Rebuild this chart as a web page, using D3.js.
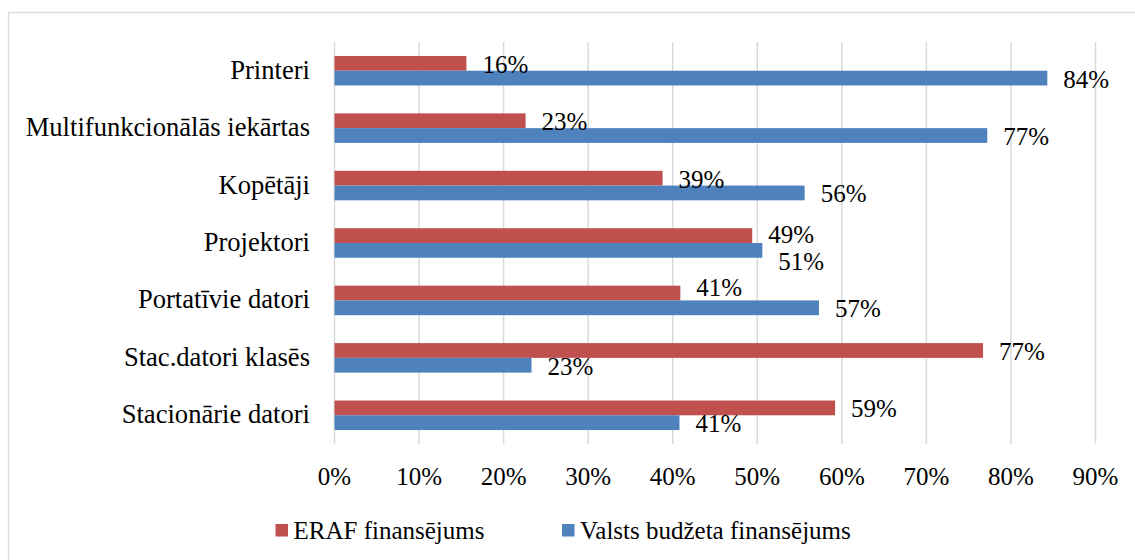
<!DOCTYPE html>
<html>
<head>
<meta charset="utf-8">
<script src="https://d3js.org/d3.v7.min.js"></script>
<style>
  body { margin: 0; background: #fff; }
</style>
</head>
<body>
<div id="chart"></div>
<script>
// categories, top to bottom
var categories = ["Printeri", "Multifunkcionālās iekārtas", "Kopētāji", "Projektori",
                  "Portatīvie datori", "Stac.datori klasēs", "Stacionārie datori"];
var seriesNames = ["ERAF finansējums", "Valsts budžeta finansējums"];
// percentages
var eraf   = [15.6, 22.6, 38.8, 49.4, 40.9, 76.7, 59.2];
var valsts = [84.3, 77.2, 55.6, 50.6, 57.3, 23.3, 40.8];
var ticks  = [0, 10, 20, 30, 40, 50, 60, 70, 80, 90];
var colors = ["#C0504D", "#4F81BD"];

var FONT = "'Liberation Serif', Tinos, 'Times New Roman', Times, 'DejaVu Serif', serif";
var W = 1135, H = 560;
var svg = d3.select("#chart").append("svg")
    .attr("width", W).attr("height", H)
    .attr("font-family", FONT);

// outer chart frame (only top/left fall inside the picture)
svg.append("rect")
   .attr("x", 8.5).attr("y", 12.5)
   .attr("width", 1140).attr("height", 560)
   .attr("fill", "none").attr("stroke", "#d9d9d9").attr("stroke-width", 1.3);

var xScale = d3.scaleLinear().domain([0, 90]).range([334.5, 1095.5]);
var yScale = d3.scaleBand().domain(categories).range([42, 444])
    .paddingInner(0.486).paddingOuter(0.243);
var ySub = d3.scaleBand().domain([0, 1]).range([0, yScale.bandwidth()]);

// gridlines
svg.append("g").selectAll("line")
   .data(ticks).enter().append("line")
   .attr("x1", function(d) { return xScale(d); })
   .attr("x2", function(d) { return xScale(d); })
   .attr("y1", 42).attr("y2", 444)
   .attr("stroke", "#d9d9d9").attr("stroke-width", 1.5);

// x tick labels
svg.append("g").selectAll("text")
   .data(ticks).enter().append("text")
   .attr("x", function(d) { return xScale(d); })
   .attr("y", 485)
   .attr("text-anchor", "middle")
   .style("font-family", FONT)
   .style("font-size", "25px")
   .text(function(d) { return d + "%"; });

// category labels
svg.append("g").selectAll("text")
   .data(categories).enter().append("text")
   .attr("x", 310)
   .attr("y", function(d) { return yScale(d) + yScale.bandwidth() / 2 + 8; })
   .attr("text-anchor", "end")
   .style("font-family", FONT)
   .style("font-size", "26.6px")
   .text(function(d) { return d; });

var rows = [];
categories.forEach(function(c, i) {
  rows.push({ cat: c, s: 0, v: eraf[i] });
  rows.push({ cat: c, s: 1, v: valsts[i] });
});

// bars
svg.append("g").selectAll("rect")
   .data(rows).enter().append("rect")
   .attr("x", xScale(0))
   .attr("y", function(d) { return yScale(d.cat) + ySub(d.s); })
   .attr("width", function(d) { return xScale(d.v) - xScale(0); })
   .attr("height", ySub.bandwidth())
   .attr("fill", function(d) { return colors[d.s]; });

// labels that Excel pushed apart to avoid collisions
var nudge = { "Projektori0": -2.5, "Projektori1": 10.5, "Portatīvie datori0": -7 };

// value labels
svg.append("g").selectAll("text")
   .data(rows).enter().append("text")
   .attr("x", function(d) { return xScale(d.v) + 16; })
   .attr("y", function(d) {
     return yScale(d.cat) + ySub(d.s) + ySub.bandwidth() / 2 + 9.5 + (nudge[d.cat + d.s] || 0);
   })
   .style("font-family", FONT)
   .style("font-size", "25px")
   .text(function(d) { return Math.round(d.v) + "%"; });

// legend
var legendX = [275.5, 562];
var legend = svg.append("g").selectAll("g")
   .data(seriesNames).enter().append("g")
   .attr("transform", function(d, i) { return "translate(" + legendX[i] + ",524)"; });
legend.append("rect")
   .attr("width", 12.5).attr("height", 12.5)
   .attr("fill", function(d, i) { return colors[i]; });
legend.append("text")
   .attr("x", 18).attr("y", 15)
   .style("font-family", FONT)
   .style("font-size", "25px")
   .text(function(d) { return d; });
</script>
</body>
</html>
